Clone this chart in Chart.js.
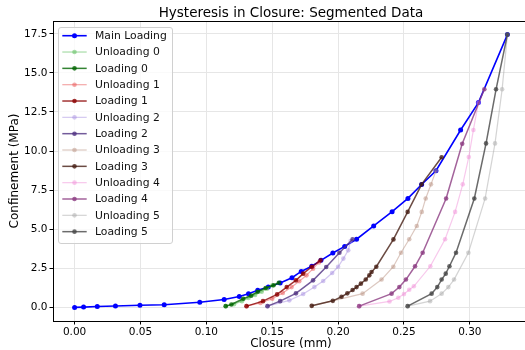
<!DOCTYPE html>
<html><head><meta charset="utf-8">
<script src="https://cdn.jsdelivr.net/npm/chart.js@4.4.1/dist/chart.umd.min.js"></script>
<style>html,body{margin:0;padding:0;overflow:hidden;background:#fff;width:525px;height:350px}canvas{display:block}</style>
</head><body><canvas id="c" width="545" height="350"></canvas>
<script>
// ---- data ----
const xTickValues = [0, 0.05, 0.10, 0.15, 0.20, 0.25, 0.30];
const xTickLabels = ['0.00','0.05','0.10','0.15','0.20','0.25','0.30'];
const yTickValues = [0, 2.5, 5, 7.5, 10, 12.5, 15, 17.5];
const yTickLabels = ['0.0','2.5','5.0','7.5','10.0','12.5','15.0','17.5'];

const mainX = [0, 0.0068, 0.0172, 0.031, 0.0496, 0.068, 0.095, 0.1135, 0.125, 0.132, 0.139, 0.147, 0.156, 0.165, 0.172, 0.180, 0.187, 0.196, 0.205, 0.214, 0.227, 0.241, 0.253, 0.2634, 0.2743, 0.293, 0.3065, 0.3285];
const mainY = [0, 0.02, 0.06, 0.09, 0.14, 0.17, 0.33, 0.50, 0.70, 0.88, 1.09, 1.30, 1.56, 1.90, 2.30, 2.63, 3.01, 3.48, 3.90, 4.36, 5.21, 6.12, 6.97, 7.86, 8.74, 11.35, 13.10, 17.45];

const unload0X = [0.150, 0.146, 0.142, 0.137, 0.132, 0.127, 0.121, 0.1147];
const unload0Y = [1.40, 1.20, 1.00, 0.80, 0.60, 0.40, 0.20, 0.08];
const load0X = [0.1147, 0.119, 0.128, 0.134, 0.139, 0.145, 0.151, 0.155];
const load0Y = [0.08, 0.19, 0.55, 0.75, 1.00, 1.24, 1.42, 1.58];

const unload1X = [0.1855, 0.181, 0.176, 0.1705, 0.1647, 0.158, 0.150, 0.141, 0.1305];
const unload1Y = [2.88, 2.48, 2.05, 1.67, 1.30, 0.92, 0.55, 0.28, 0.08];
const load1X = [0.1305, 0.143, 0.1537, 0.161, 0.168, 0.1735, 0.180, 0.1867];
const load1Y = [0.08, 0.40, 0.83, 1.30, 1.73, 2.16, 2.60, 3.01];

const unload2X = [0.2095, 0.2077, 0.204, 0.200, 0.1955, 0.1887, 0.182, 0.1735, 0.163, 0.1464];
const unload2Y = [4.25, 3.65, 3.12, 2.60, 2.20, 1.69, 1.30, 0.86, 0.45, 0.08];
const load2X = [0.1464, 0.156, 0.168, 0.181, 0.191, 0.201, 0.211];
const load2Y = [0.08, 0.40, 0.90, 1.73, 2.58, 3.50, 4.36];

const unload3X = [0.2743, 0.2705, 0.2665, 0.2635, 0.2597, 0.254, 0.2477, 0.2419, 0.233, 0.2186, 0.180];
const unload3Y = [8.74, 7.87, 6.97, 6.11, 5.21, 4.36, 3.50, 2.60, 1.78, 0.88, 0.10];
const load3X = [0.180, 0.196, 0.2026, 0.207, 0.211, 0.214, 0.2173, 0.221, 0.2237, 0.2254, 0.229, 0.242, 0.2528, 0.2634, 0.2786];
const load3Y = [0.10, 0.42, 0.68, 0.90, 1.11, 1.30, 1.52, 1.78, 2.05, 2.26, 2.60, 4.35, 6.11, 7.87, 9.60];

const unload4X = [0.3065, 0.3027, 0.2992, 0.2946, 0.2888, 0.2812, 0.270, 0.2575, 0.254, 0.250, 0.2457, 0.239, 0.216];
const unload4Y = [13.10, 11.35, 9.62, 7.87, 6.11, 4.36, 2.63, 1.35, 1.13, 0.85, 0.62, 0.38, 0.08];
const load4X = [0.216, 0.2406, 0.2465, 0.2515, 0.2584, 0.2642, 0.282, 0.2942, 0.311];
const load4Y = [0.08, 0.88, 1.30, 1.78, 2.63, 3.50, 6.97, 10.47, 13.95];

const unload5X = [0.3285, 0.3245, 0.3191, 0.3116, 0.2989, 0.288, 0.2837, 0.2786, 0.2698, 0.2528];
const unload5Y = [17.45, 13.95, 10.49, 6.97, 3.50, 1.78, 1.30, 0.88, 0.40, 0.08];
const load5X = [0.2528, 0.271, 0.2753, 0.2786, 0.2817, 0.2845, 0.2895, 0.3034, 0.3123, 0.3199, 0.3285];
const load5Y = [0.08, 0.88, 1.30, 1.78, 2.16, 2.63, 3.50, 6.97, 10.49, 13.95, 17.45];

const seriesLabels = ['Main Loading','Unloading 0','Loading 0','Unloading 1','Loading 1','Unloading 2','Loading 2','Unloading 3','Loading 3','Unloading 4','Loading 4','Unloading 5','Loading 5'];
const seriesX = [mainX, unload0X, load0X, unload1X, load1X, unload2X, load2X, unload3X, load3X, unload4X, load4X, unload5X, load5X];
const seriesY = [mainY, unload0Y, load0Y, unload1Y, load1Y, unload2Y, load2Y, unload3Y, load3Y, unload4Y, load4Y, unload5Y, load5Y];

// ---- styles ----
const seriesColors = [
  'rgba(0,0,255,1)',
  'rgba(81,185,81,0.5)',  'rgba(0,100,0,0.8)',
  'rgba(233,81,81,0.5)',  'rgba(139,0,0,0.8)',
  'rgba(169,145,225,0.5)','rgba(80,50,130,0.8)',
  'rgba(185,145,129,0.5)','rgba(70,30,20,0.8)',
  'rgba(241,145,217,0.5)','rgba(140,60,130,0.8)',
  'rgba(169,169,169,0.5)','rgba(70,70,70,0.8)'
];
const FONT = '"DejaVu Sans", sans-serif';

const datasets = seriesLabels.map((lab, i) => ({
  label: lab,
  data: seriesX[i].map((x, j) => ({x: x, y: seriesY[i][j]})),
  showLine: true,
  borderColor: seriesColors[i],
  backgroundColor: seriesColors[i],
  pointBackgroundColor: seriesColors[i],
  pointBorderWidth: 0,
  pointRadius: i === 0 ? 2.5 : 2.3,
  borderWidth: i === 0 ? 1.6 : (i % 2 === 1 ? 1.2 : 1.5),
  tension: 0,
  order: 100 - i
}));

const titlePlugin = {
  id: 'mplTitle',
  afterDraw(chart) {
    const ctx = chart.ctx, a = chart.chartArea;
    ctx.save();
    ctx.font = '13.5px ' + FONT;
    ctx.fillStyle = '#000';
    ctx.textAlign = 'center';
    ctx.textBaseline = 'middle';
    ctx.fillText('Hysteresis in Closure: Segmented Data', (a.left + a.right) / 2, 13);
    ctx.restore();
  }
};

const spinePlugin = {
  id: 'spines',
  afterDatasetsDraw(chart) {
    const ctx = chart.ctx, a = chart.chartArea;
    ctx.save();
    ctx.strokeStyle = '#000';
    ctx.lineWidth = 1;
    ctx.strokeRect(Math.round(a.left) + 0.5, Math.round(a.top) + 0.5, a.right - a.left, a.bottom - a.top);
    ctx.restore();
  }
};

const legendPlugin = {
  id: 'mplLegend',
  afterDatasetsDraw(chart) {
    const ctx = chart.ctx;
    const ds = chart.data.datasets;
    const x0 = 58.5, y0 = 27.5, w = 114, h = 216, r = 2.5;
    ctx.save();
    ctx.beginPath();
    ctx.moveTo(x0 + r, y0);
    ctx.lineTo(x0 + w - r, y0); ctx.arcTo(x0 + w, y0, x0 + w, y0 + r, r);
    ctx.lineTo(x0 + w, y0 + h - r); ctx.arcTo(x0 + w, y0 + h, x0 + w - r, y0 + h, r);
    ctx.lineTo(x0 + r, y0 + h); ctx.arcTo(x0, y0 + h, x0, y0 + h - r, r);
    ctx.lineTo(x0, y0 + r); ctx.arcTo(x0, y0, x0 + r, y0, r);
    ctx.closePath();
    ctx.fillStyle = 'rgba(255,255,255,0.8)';
    ctx.fill();
    ctx.strokeStyle = '#d0d0d0';
    ctx.lineWidth = 1;
    ctx.stroke();
    ds.forEach((d, i) => {
      const cy = 35.7 + i * 16.33;
      ctx.strokeStyle = d.borderColor;
      ctx.lineWidth = d.borderWidth;
      ctx.beginPath(); ctx.moveTo(62.3, cy); ctx.lineTo(86.7, cy); ctx.stroke();
      ctx.fillStyle = d.pointBackgroundColor;
      ctx.beginPath(); ctx.arc(74.5, cy, d.pointRadius, 0, Math.PI * 2); ctx.fill();
      ctx.fillStyle = '#111';
      ctx.font = '10.8px ' + FONT;
      ctx.textAlign = 'left';
      ctx.textBaseline = 'middle';
      ctx.fillText(d.label, 95, cy + 0.5);
    });
    ctx.restore();
  }
};

new Chart(document.getElementById('c'), {
  type: 'scatter',
  data: { datasets: datasets },
  options: {
    responsive: false,
    animation: false,
    devicePixelRatio: 1,
    layout: { padding: { top: 21, right: 16, left: 0, bottom: 0 } },
    plugins: { legend: { display: false }, tooltip: { enabled: false }, title: { display: false } },
    scales: {
      x: {
        type: 'linear', min: -0.0164, max: 0.3449,
        afterBuildTicks: s => { s.ticks = xTickValues.map(v => ({ value: v })); },
        afterFit: s => { s.height = 29; },
        ticks: { callback: (v, i) => xTickLabels[i], font: { family: FONT, size: 10.5 }, color: '#000', padding: 1, maxRotation: 0, autoSkip: false },
        grid: { color: '#e6e6e6', lineWidth: 1, tickColor: '#000', tickLength: 3.5, tickWidth: 1 },
        border: { display: false },
        title: { display: true, text: 'Closure (mm)', font: { family: FONT, size: 12 }, color: '#000', padding: { top: 0, bottom: -1.5 } }
      },
      y: {
        type: 'linear', min: -0.87, max: 18.32,
        afterBuildTicks: s => { s.ticks = yTickValues.map(v => ({ value: v })); },
        afterFit: s => { s.width = 53; },
        ticks: { callback: (v, i) => yTickLabels[i], font: { family: FONT, size: 10.5 }, color: '#000', padding: 2, autoSkip: false },
        grid: { color: '#e6e6e6', lineWidth: 1, tickColor: '#000', tickLength: 3.5, tickWidth: 1 },
        border: { display: false },
        title: { display: true, text: 'Confinement (MPa)', font: { family: FONT, size: 12 }, color: '#000', padding: { top: 8, bottom: 0 } }
      }
    }
  },
  plugins: [titlePlugin, spinePlugin, legendPlugin]
});
</script>
</body></html>
